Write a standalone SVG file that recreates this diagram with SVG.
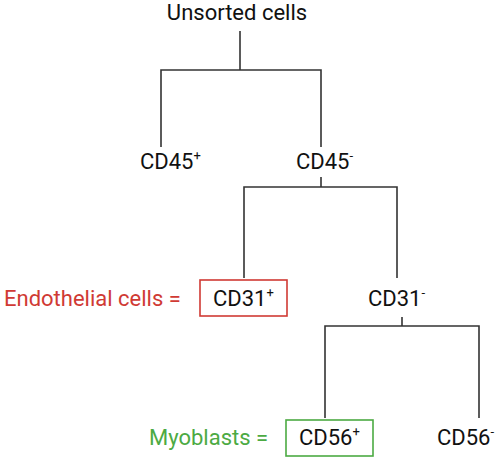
<svg xmlns="http://www.w3.org/2000/svg" width="498" height="461" viewBox="0 0 498 461">
<style>
text{font-family:Roboto,"Liberation Sans",sans-serif;font-size:22px;fill:#111}
.sup{font-size:13px}
.red{fill:#d03a34}
.green{fill:#4caa43}
.conn{fill:none;stroke:#333;stroke-width:1.6}
</style>
<rect width="498" height="461" fill="#fff"/>
<g id="connectors" class="conn">
<path d="M240 31V70M161 147V70H321V147"/>
<path d="M321 177V187M244 278V187H397V278"/>
<path d="M402 317V326M325 418V326H479V418"/>
</g>
<g id="unsorted"><text x="237" y="20" text-anchor="middle">Unsorted cells</text></g>
<g id="cd45pos"><text x="140" y="169">CD45<tspan class="sup" dy="-9">+</tspan></text></g>
<g id="cd45neg"><text x="296" y="169">CD45<tspan class="sup" dy="-9">-</tspan></text></g>
<g id="endothelial"><text class="red" x="4" y="306">Endothelial cells =</text></g>
<g id="cd31pos"><rect x="200" y="280" width="87" height="36" fill="none" stroke="#d03a34" stroke-width="1.6"/><text x="213" y="306">CD31<tspan class="sup" dy="-9">+</tspan></text></g>
<g id="cd31neg"><text x="368" y="306">CD31<tspan class="sup" dy="-9">-</tspan></text></g>
<g id="myoblasts"><text class="green" x="149" y="445">Myoblasts =</text></g>
<g id="cd56pos"><rect x="286" y="420" width="87" height="36" fill="none" stroke="#4caa43" stroke-width="1.6"/><text x="299" y="445">CD56<tspan class="sup" dy="-9">+</tspan></text></g>
<g id="cd56neg"><text x="437" y="445">CD56<tspan class="sup" dy="-9">-</tspan></text></g>
</svg>
